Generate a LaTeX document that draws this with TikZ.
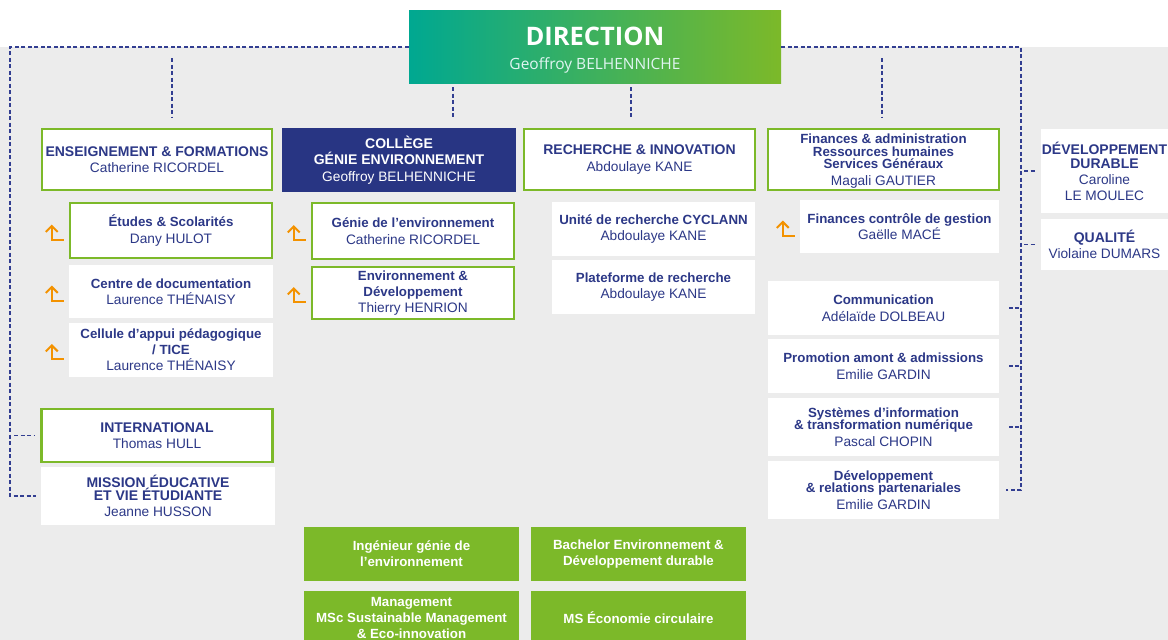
\documentclass[tikz,border=0pt]{standalone}
\usepackage{fontspec}
\setmainfont{Liberation Sans}
\newfontfamily\dirfont{Open Sans}
\usetikzlibrary{calc,arrows.meta}

\definecolor{orggreen}{RGB}{124,185,41}
\definecolor{orgteal}{RGB}{0,168,145}
\definecolor{orgnavy}{RGB}{40,53,131}
\definecolor{orgtext}{RGB}{44,56,135}
\definecolor{orggrey}{RGB}{236,236,236}
\definecolor{orgorange}{RGB}{243,146,0}
\definecolor{orgdash}{RGB}{50,62,145}

\newcommand{\orgfont}{\fontsize{13.7}{12.5}\selectfont\lineskiplimit=-20pt}
\newcommand{\coursefont}{\bfseries\fontsize{13.3}{16}\selectfont\lineskiplimit=-20pt}
% titles: mixed case and capitals
\newcommand{\ttl}[1]{{\bfseries\fontsize{13.3}{12.5}\selectfont #1}}
\newcommand{\ttlcaps}[1]{{\bfseries\fontsize{14}{12.5}\selectfont #1}}

\begin{document}
\begin{tikzpicture}[x=1pt, y=-1pt,
    every node/.style={align=center, inner sep=0pt, font=\orgfont, text=orgtext},
    greenbox/.style={draw=orggreen, line width=2.5pt, fill=white},
    whitebox/.style={fill=white},
    collegebox/.style={fill=orgnavy, text=white},
    coursebox/.style={fill=orggreen, text=white, font=\coursefont},
    dashline/.style={orgdash, line width=1.5pt, dash pattern=on 4pt off 2.5pt},
    uparrow/.style={orgorange, line width=2pt, -{Straight Barb[length=6pt,width=12pt]}}]
                \useasboundingbox (0,0) rectangle (1168,640);
                \fill[orggrey] (0,47) rectangle (1168,640);
                % direction
                \node[left color=orgteal, right color=orggreen, text=white!88!orgteal, minimum width=372pt, minimum height=73pt,
                      font=\dirfont\fontsize{15.5}{15.5}\selectfont] (direction) at (595,46.5)
                      {{\bfseries\color{white}\fontsize{25.5}{25.5}\selectfont\rule{0pt}{26.4pt}DIRECTION}\\[8.8pt]Geoffroy BELHENNICHE};
                % first row
                \node[greenbox, minimum width=230pt, minimum height=61pt] (enseignement) at (157,159.5)
                      {\ttlcaps{ENSEIGNEMENT \& FORMATIONS}\\[4pt]Catherine RICORDEL};
                \node[collegebox, minimum width=234pt, minimum height=64pt] (college) at (399,160)
                      {\ttlcaps{COLLÈGE}\\[3.5pt]\ttlcaps{GÉNIE ENVIRONNEMENT}\\[4pt]Geoffroy BELHENNICHE};
                \node[greenbox, minimum width=231pt, minimum height=61pt] (recherche) at (639.5,159.5)
                      {\ttlcaps{RECHERCHE \& INNOVATION}\\[4pt]Abdoulaye KANE};
                \node[greenbox, minimum width=231pt, minimum height=61pt, text depth=0pt] (finances) at (883.5,159.5)
                      {\ttl{Finances \& administration}\\\ttl{Ressources humaines}\\\ttl{Services Généraux}\\[4pt]Magali GAUTIER};
                \node[whitebox, minimum width=127pt, minimum height=84pt] (devdurable) at (1104.5,171)
                      {\ttlcaps{DÉVELOPPEMENT}\\[1.5pt]\ttlcaps{DURABLE}\\[3.5pt]Caroline\\[3.5pt]LE MOULEC};
                \node[whitebox, minimum width=127pt, minimum height=51pt] (qualite) at (1104.5,244.5)
                      {\ttlcaps{QUALITÉ}\\[4pt]Violaine DUMARS};
                % enseignement column
                \node[greenbox, minimum width=202pt, minimum height=55pt] (etudes) at (171,230.5)
                      {\ttl{Études \& Scolarités}\\[4pt]Dany HULOT};
                \node[whitebox, minimum width=204pt, minimum height=53pt] (centredoc) at (171,291.5)
                      {\ttl{Centre de documentation}\\[4pt]Laurence THÉNAISY};
                \node[whitebox, minimum width=204pt, minimum height=54pt] (cellule) at (171,350)
                      {\ttl{Cellule d’appui pédagogique}\\[3.5pt]\ttl{/ TICE}\\[3.5pt]Laurence THÉNAISY};
                \node[greenbox, minimum width=231pt, minimum height=53pt] (international) at (157,435.5)
                      {\ttlcaps{INTERNATIONAL}\\[4pt]Thomas HULL};
                \node[whitebox, minimum width=234pt, minimum height=58pt] (mission) at (158,496)
                      {\ttlcaps{MISSION ÉDUCATIVE}\\\ttlcaps{ET VIE ÉTUDIANTE}\\[4pt]Jeanne HUSSON};
                % college column
                \node[greenbox, minimum width=202pt, minimum height=56pt] (genie) at (413,231)
                      {\ttl{Génie de l’environnement}\\[4pt]Catherine RICORDEL};
                \node[greenbox, minimum width=202pt, minimum height=52pt] (envdev) at (413,293)
                      {\ttl{Environnement \&}\\[3.5pt]\ttl{Développement}\\[3.5pt]Thierry HENRION};
                % recherche column
                \node[whitebox, minimum width=203pt, minimum height=54pt] (cyclann) at (653.5,229)
                      {\ttl{Unité de recherche CYCLANN}\\[4pt]Abdoulaye KANE};
                \node[whitebox, minimum width=203pt, minimum height=54pt] (plateforme) at (653.5,287)
                      {\ttl{Plateforme de recherche}\\[4pt]Abdoulaye KANE};
                % finances column
                \node[whitebox, minimum width=199pt, minimum height=53pt] (fcg) at (899.5,226.5)
                      {\ttl{Finances contrôle de gestion}\\[4pt]Gaëlle MACÉ};
                \node[whitebox, minimum width=231pt, minimum height=54pt] (communication) at (883.5,308)
                      {\ttl{Communication}\\[4pt]Adélaïde DOLBEAU};
                \node[whitebox, minimum width=231pt, minimum height=54pt] (promotion) at (883.5,366)
                      {\ttl{Promotion amont \& admissions}\\[4pt]Emilie GARDIN};
                \node[whitebox, minimum width=231pt, minimum height=58pt] (systemes) at (883.5,427)
                      {\ttl{Systèmes d’information}\\\ttl{\& transformation numérique}\\[4pt]Pascal CHOPIN};
                \node[whitebox, minimum width=231pt, minimum height=58pt] (devrel) at (883.5,490)
                      {\ttl{Développement}\\\ttl{\& relations partenariales}\\[4pt]Emilie GARDIN};
                % courses
                \node[coursebox, minimum width=215pt, minimum height=54pt] (ingenieur) at (411.5,554)
                      {Ingénieur génie de\\l’environnement};
                \node[coursebox, minimum width=215pt, minimum height=54pt] (management) at (411.5,618)
                      {Management\\MSc Sustainable Management\\\& Eco-innovation};
                \node[coursebox, minimum width=215pt, minimum height=54pt] (bachelor) at (638.5,554)
                      {Bachelor Environnement \&\\Développement durable};
                \node[coursebox, minimum width=215pt, minimum height=54pt] (msec) at (638.5,618)
                      {MS Économie circulaire};
                % dashed links
                \coordinate (leftrail) at (10,47);
                \coordinate (rightrail) at (1021,47);
                \coordinate (ensdrop) at (172,47);
                \coordinate (findrop) at (882,47);
                \coordinate (coldrop) at (453,0);
                \coordinate (recdrop) at (631,0);
                \draw[dashline, shorten >=5pt] (direction.west |- leftrail) -- (leftrail) |- (mission.west);
                \draw[dashline, shorten <=4pt, shorten >=5pt] (leftrail |- international.west) -- (international.west);
                \draw[dashline, shorten >=7pt] (direction.east |- rightrail) -- (rightrail) |- (devrel.east);
                \foreach \n in {communication,promotion,systemes}
                    \draw[dashline, shorten <=2pt, shorten >=7pt] (rightrail |- \n.east) -- (\n.east);
                \foreach \n in {devdurable,qualite}
                    \draw[dashline, shorten <=3pt, shorten >=6pt] (rightrail |- \n.west) -- (\n.west);
                \draw[dashline, shorten <=11pt, shorten >=10pt] (ensdrop) -- (ensdrop |- enseignement.north);
                \draw[dashline, shorten <=11pt, shorten >=10pt] (findrop) -- (findrop |- finances.north);
                \draw[dashline, shorten <=4pt, shorten >=10pt] (coldrop |- direction.south) -- (coldrop |- college.north);
                \draw[dashline, shorten <=4pt, shorten >=10pt] (recdrop |- direction.south) -- (recdrop |- recherche.north);
                % orange arrows
                \foreach \n in {etudes,centredoc,cellule,genie,envdev,fcg}
                    \draw[uparrow] ($(\n.west)+(-5,9)$) -| ++(-12,-15);
            \end{tikzpicture}
\end{document}
